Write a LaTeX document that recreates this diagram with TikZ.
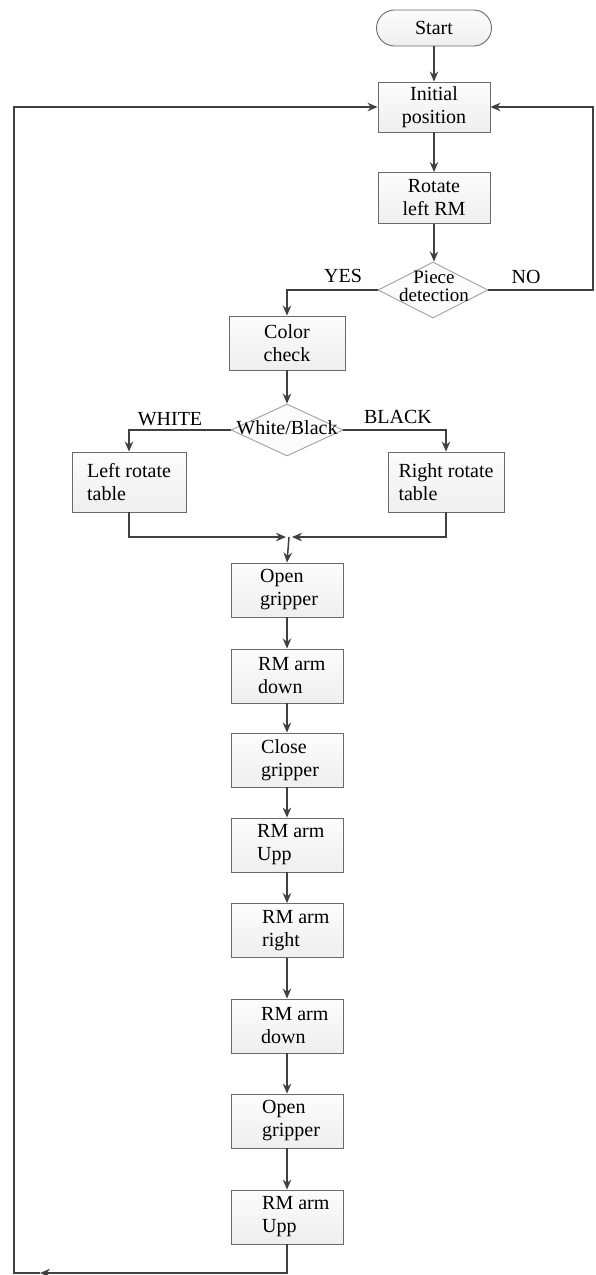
\documentclass[tikz,border=0pt]{standalone}
\usepackage{fontspec}
\setmainfont{Liberation Serif}
\usetikzlibrary{arrows.meta,shapes.geometric,calc}
\definecolor{linecol}{HTML}{404040}
\definecolor{boxcol}{HTML}{6A6A6A}
\definecolor{diacol}{HTML}{A0A0A0}
\begin{document}
\begin{tikzpicture}[x=1pt,y=-1pt,
  line/.style={draw=linecol, line width=1.5pt},
  arr/.style={line, -{Stealth[length=10pt,width=8.5pt]}},
  box/.style={draw=boxcol, line width=0.9pt, top color=gray!2, bottom color=gray!13,
    minimum width=112pt, minimum height=54pt, inner sep=0pt,
    font=\fontsize{20}{23}\selectfont, align=center},
  term/.style={box, rounded corners=18pt, minimum width=115pt, minimum height=36pt},
  dia/.style={shape=diamond, draw=diacol, line width=0.9pt, fill=gray!3, inner sep=0pt},
  txt/.style={font=\fontsize{20}{23}\selectfont, align=left, inner sep=0pt},
  lbl/.style={font=\fontsize{20}{23}\selectfont, inner sep=0pt}
]
\useasboundingbox (0,0) rectangle (595,1275);

% top part
\node[term] (start) at (434,28) {Start};
\node[box, minimum height=50pt] (init) at (434,107) {Initial\\position};
\node[box, minimum height=51pt] (rot) at (434,198) {Rotate\\left RM};
\node[dia, minimum width=110pt, minimum height=56pt] (pd) at (433,290) {};
\node[lbl, align=center, font=\fontsize{19}{18}\selectfont] (pdt) at (434,286) {Piece\\detection};
\node[lbl] (yes) at (343,276) {YES};
\node[lbl] (no) at (526,277) {NO};

\draw[arr] (start) -- (init);
\draw[arr] (init) -- (rot);
\draw[arr] (rot.south) -- (rot.south |- pd.north);
\coordinate (rc) at (593,290);
\draw[arr] (pd.east) -- (rc) |- (init.east);

% color check
\node[box, minimum width=116pt] (cc) at (287,343) {Color\\check};
\draw[arr] (pd.west) -| (cc.north);
\node[dia, minimum width=112pt, minimum height=52pt] (wb) at (287,430) {};
\node[lbl] (wbt) at (287,428) {White/Black};
\draw[arr] (cc.south) -- (wb.north);
\node[lbl] (white) at (170,419) {WHITE};
\node[lbl] (black) at (398,417) {BLACK};

\node[box, minimum width=114pt, minimum height=60pt, align=left] (lrt) at (129,482) {Left rotate\\table};
\node[box, minimum width=116pt, minimum height=60pt, align=left] (rrt) at (446,482) {Right rotate\\table};
\draw[arr] (wb.west) -| (lrt.north);
\draw[arr] (wb.east) -| (rrt.north);

\coordinate (m) at (289,537);
\draw[arr] (lrt.south) |- ([xshift=-3pt]m);
\draw[arr] (rrt.south) |- ([xshift=3pt]m);

% middle column
\node[box] (og1) at (287,590) {};
\node[box] (d1) at (287,676) {};
\node[box] (cg) at (287,760) {};
\node[box] (u1) at (287,845) {};
\node[box] (ri) at (287,930.5) {};
\node[box] (d2) at (287,1026) {};
\node[box] (og2) at (287,1121) {};
\node[box] (u2) at (287,1217) {};

\node[txt, anchor=west] (tog1) at (260,590) {Open\\gripper};
\node[txt, anchor=west] (td1) at (258,676) {RM arm\\down};
\node[txt, anchor=west] (tcg) at (261,760) {Close\\gripper};
\node[txt, anchor=west] (tu1) at (257,845) {RM arm\\Upp};
\node[txt, anchor=west] (tri) at (262,930.5) {RM arm\\right};
\node[txt, anchor=west] (td2) at (261,1026) {RM arm\\down};
\node[txt, anchor=west] (tog2) at (262,1121) {Open\\gripper};
\node[txt, anchor=west] (tu2) at (262,1217) {RM arm\\Upp};

\draw[arr] (m) -- (og1.north);
\draw[arr] (og1) -- (d1);
\draw[arr] (d1) -- (cg);
\draw[arr] (cg) -- (u1);
\draw[arr] (u1) -- (ri);
\draw[arr] (ri) -- (d2);
\draw[arr] (d2) -- (og2);
\draw[arr] (og2) -- (u2);

% return loop
\coordinate (bb) at (40,1273);
\coordinate (bl) at (14,1273);
\draw[arr] (u2.south) |- (bb);
\draw[arr] (bb) -- (bl) |- (init.west);
\end{tikzpicture}
\end{document}
